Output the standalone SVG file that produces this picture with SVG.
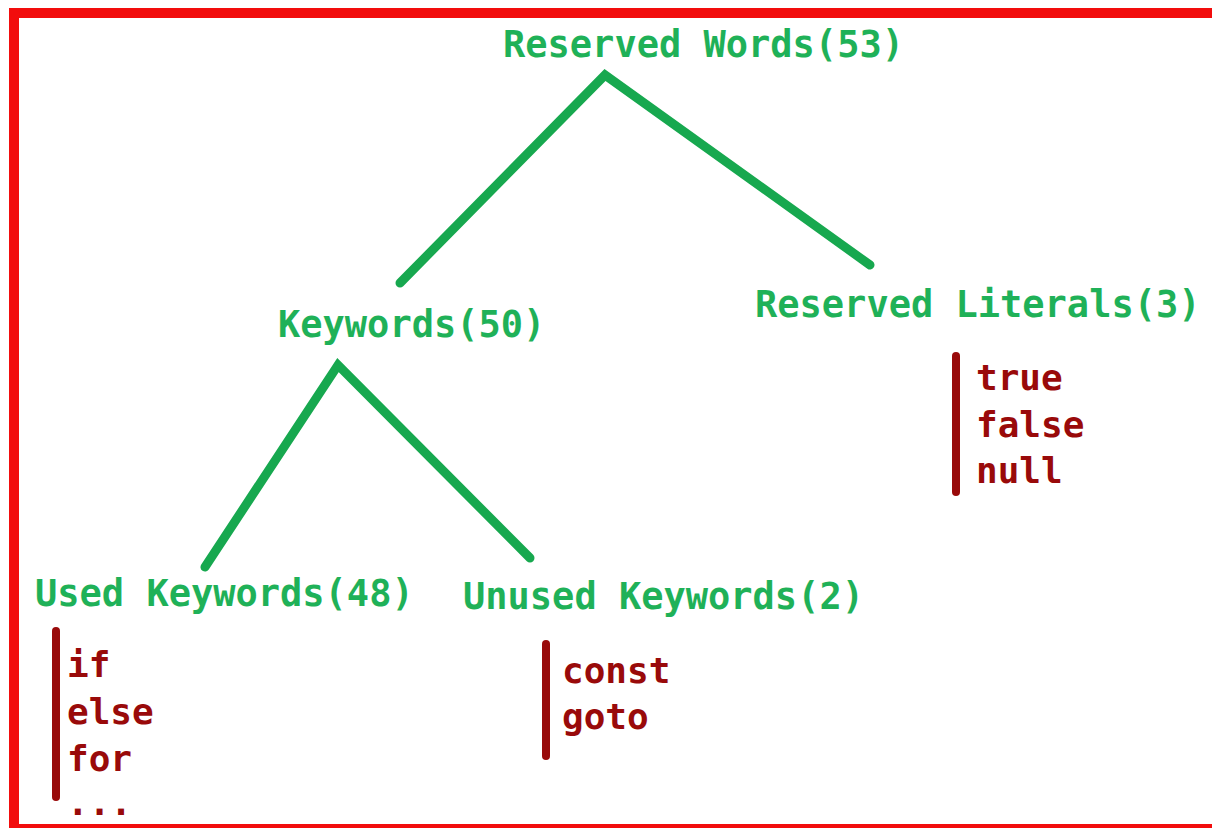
<svg xmlns="http://www.w3.org/2000/svg" width="1212" height="828" viewBox="0 0 1212 828">
  <style>
    .frame { fill: none; stroke: #f20d0d; }
    .edge { stroke: #17a84f; stroke-width: 9; stroke-linecap: round; fill: none; }
    .bar { stroke: #990a0a; stroke-width: 8; stroke-linecap: round; }
    .title { font-family: "DejaVu Sans Mono", "Liberation Mono", monospace; font-weight: bold; font-size: 37px; fill: #1fb158; }
    .item { font-family: "DejaVu Sans Mono", "Liberation Mono", monospace; font-weight: bold; font-size: 36px; fill: #990a0a; }
  </style>
  <rect width="1212" height="828" fill="#ffffff"/>

  <!-- outer frame -->
  <g id="frame">
    <line class="frame" x1="9" y1="13" x2="1212" y2="13" stroke-width="10"/>
    <line class="frame" x1="14" y1="8" x2="14" y2="828" stroke-width="10"/>
    <line class="frame" x1="9" y1="826" x2="1212" y2="826" stroke-width="4"/>
  </g>

  <!-- tree connectors -->
  <g id="connectors">
    <path class="edge" d="M400,283 L605,75 L870,265"/>
    <path class="edge" d="M205,567 L338,365 L530,558"/>
  </g>

  <g id="reserved-words">
    <text class="title" x="503" y="57">Reserved Words(53)</text>
  </g>

  <g id="keywords">
    <text class="title" x="278" y="337">Keywords(50)</text>
  </g>

  <g id="reserved-literals">
    <text class="title" x="755" y="317">Reserved Literals(3)</text>
    <line class="bar" x1="956" y1="356" x2="956" y2="492"/>
    <text class="item" x="976" y="390">true</text>
    <text class="item" x="976" y="437">false</text>
    <text class="item" x="976" y="483">null</text>
  </g>

  <g id="used-keywords">
    <text class="title" x="35" y="606">Used Keywords(48)</text>
    <line class="bar" x1="56" y1="631" x2="56" y2="797"/>
    <text class="item" x="67" y="677">if</text>
    <text class="item" x="67" y="724">else</text>
    <text class="item" x="67" y="771">for</text>
    <text class="item" x="67" y="815">...</text>
  </g>

  <g id="unused-keywords">
    <text class="title" x="463" y="609">Unused Keywords(2)</text>
    <line class="bar" x1="546" y1="644" x2="546" y2="756"/>
    <text class="item" x="562" y="683">const</text>
    <text class="item" x="562" y="729">goto</text>
  </g>
</svg>
